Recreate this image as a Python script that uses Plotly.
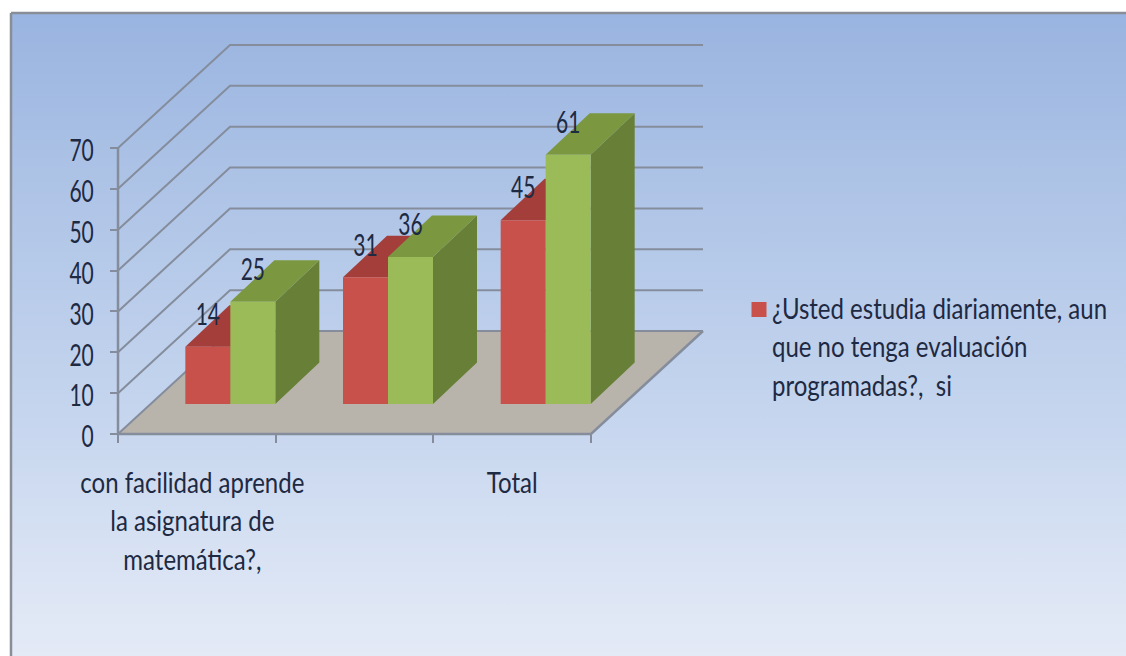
import plotly.graph_objects as go

# ---- data ----
categories = ["con facilidad aprende<br>la asignatura de<br>matemática?,", " ", "Total"]
red_values = [14, 31, 45]
green_values = [25, 36, 61]
y_ticks = [0, 10, 20, 30, 40, 50, 60, 70]
legend_label = "<br><br>¿Usted estudia diariamente, aun<br>que no tenga evaluación<br>programadas?,  si"

# ---- geometry of the oblique projection (axis units) ----
W, H = 1126, 656
PX_X = 157.67       # pixels per category slot
PX_Y = 4.086        # pixels per value unit
X0_PX, Y0_PX = 118, 434
def dx(px): return px / PX_X
def dy(px): return px / PX_Y
WALL_X, WALL_Y = dx(112), dy(103)
BASE_Y = dy(30)
BAR_W = dx(45)
SIDE_X, SIDE_Y = dx(44), dy(41.5)
BAR_START = 0.427
LABEL_UP = dy(27)
FONT = "Lato"
FS = 24       # words
FS_NUM = 21   # numbers
INK = "#1e2942"
GRID = "#858d9d"

x_min, x_max = dx(0 - X0_PX), dx(W - X0_PX)
y_min, y_max = dy(Y0_PX - H), dy(Y0_PX)

fig = go.Figure()

def poly(xs, ys, color):
    fig.add_trace(go.Scatter(x=xs + xs[:1], y=ys + ys[:1], mode="lines", fill="toself",
                             fillcolor=color, line=dict(width=0), hoverinfo="skip", showlegend=False))

# background panel with frame
fl, ft = dx(11 - X0_PX), dy(Y0_PX - 13)
fr, fb = x_max + 1, y_min - 5
fig.add_trace(go.Scatter(
    x=[fl, fr, fr, fl, fl], y=[ft, ft, fb, fb, ft], mode="lines", fill="toself",
    line=dict(color="#888d96", width=2.5), hoverinfo="skip", showlegend=False,
    fillgradient=dict(type="vertical", start=fb, stop=ft,
                      colorscale=[[0, "#e6ecf7"], [0.1, "#dfe7f5"], [0.4, "#c5d5ee"],
                                  [0.75, "#adc3e6"], [1, "#99b4e0"]])))

# floor
poly([0, 3, 3 + WALL_X, WALL_X], [0, 0, WALL_Y, WALL_Y], "#b8b4ac")

# gridlines on the side and back walls
gx, gy = [], []
for v in y_ticks:
    gx += [0, WALL_X, 3 + WALL_X, None]
    gy += [v, v + WALL_Y, v + WALL_Y, None]
fig.add_trace(go.Scatter(x=gx, y=gy, mode="lines", line=dict(color=GRID, width=2),
                         hoverinfo="skip", showlegend=False))

# axis lines
fig.add_trace(go.Scatter(x=[0, 0, None, 0, 3, 3 + WALL_X],
                         y=[y_ticks[-1], 0, None, 0, 0, WALL_Y], mode="lines",
                         line=dict(color=GRID, width=2.5), hoverinfo="skip", showlegend=False))

def bar(x, v, front, top, side):
    l, r = x, x + BAR_W
    b, t = BASE_Y, BASE_Y + v
    poly([r, r + SIDE_X, r + SIDE_X, r], [b, b + SIDE_Y, t + SIDE_Y, t], side)
    poly([l, r, r + SIDE_X, l + SIDE_X], [t, t, t + SIDE_Y, t + SIDE_Y], top)
    poly([l, r, r, l], [b, b, t, t], front)

lab_x, lab_y, lab_t = [], [], []
for i in range(len(categories)):
    x = i + BAR_START
    bar(x, red_values[i], "#c8524b", "#a33e3b", "#8e3532")
    bar(x + BAR_W, green_values[i], "#9bbb59", "#7b9840", "#677f37")
    lab_x += [x + BAR_W / 2, x + 1.5 * BAR_W]
    lab_y += [BASE_Y + red_values[i] + LABEL_UP, BASE_Y + green_values[i] + LABEL_UP]
    lab_t += [str(red_values[i]), str(green_values[i])]

fig.add_trace(go.Scatter(x=lab_x, y=lab_y, text=lab_t, mode="text", textposition="middle center",
                         textfont=dict(family=FONT, size=FS_NUM, color=INK),
                         hoverinfo="skip", showlegend=False))

# legend entry
fig.add_trace(go.Scatter(x=[None], y=[None], mode="markers", name=legend_label,
                         marker=dict(symbol="square", size=15, color="#c8524b")))

fig.update_layout(
    width=W, height=H, margin=dict(l=0, r=0, t=0, b=0),
    paper_bgcolor="white", plot_bgcolor="white",
    font=dict(family=FONT, size=FS, color=INK),
    legend=dict(x=739 / W, y=1 - 225 / H, xanchor="left", yanchor="top",
                bgcolor="rgba(0,0,0,0)", font=dict(family=FONT, size=FS, color=INK),
                itemwidth=30),
    xaxis=dict(range=[x_min, x_max], anchor="free", position=(H - Y0_PX) / H,
               showgrid=False, zeroline=False, showline=False,
               tickmode="array", tickvals=[0.4715, 1.5, 2.5], ticktext=categories,
               ticks="", ticklabelstandoff=34, tickfont=dict(family=FONT, size=FS, color=INK),
               minor=dict(tickmode="array", tickvals=[0, 1, 2, 3], ticks="outside",
                          ticklen=8, tickwidth=2, tickcolor=GRID, showgrid=False)),
    yaxis=dict(range=[y_min, y_max], anchor="free", position=X0_PX / W,
               showgrid=False, zeroline=False, showline=False,
               tickmode="array", tickvals=y_ticks, ticks="outside", ticklen=8,
               tickwidth=2, tickcolor=GRID, ticklabelstandoff=12,
               tickfont=dict(family=FONT, size=FS_NUM, color=INK)),
)

# the reference is a vertically stretched picture: stretch the text the same way
K_WORDS = 1.23
K_NUM = 1.45
post = """
document.body.style.margin='0';
var kw=%s, kn=%s, fs=%s;
document.querySelectorAll('.legend .scrollbox, .legend').forEach(function(g){
  g.removeAttribute('clip-path'); g.style.clipPath='none';
});
document.querySelectorAll('.main-svg text').forEach(function(t){
  var y=parseFloat(t.getAttribute('y'))||0;
  var k=kw, sx=0, sy=0;
  if(t.classList.contains('legendtext')){ y+=2*1.3*fs; sx=-7; }
  else if(t.closest('.xtick')){ k=kw; }
  else { k=kn; if(t.closest('.ytick')){ sy=6; } }
  var prev=t.getAttribute('transform')||'';
  t.setAttribute('transform', prev+' translate('+sx+','+(y+sy)+') scale(1,'+k+') translate(0,'+(-y)+')');
});
""" % (K_WORDS, K_NUM, FS)
fig.write_html("out.html", config={"displayModeBar": False}, post_script=post)
